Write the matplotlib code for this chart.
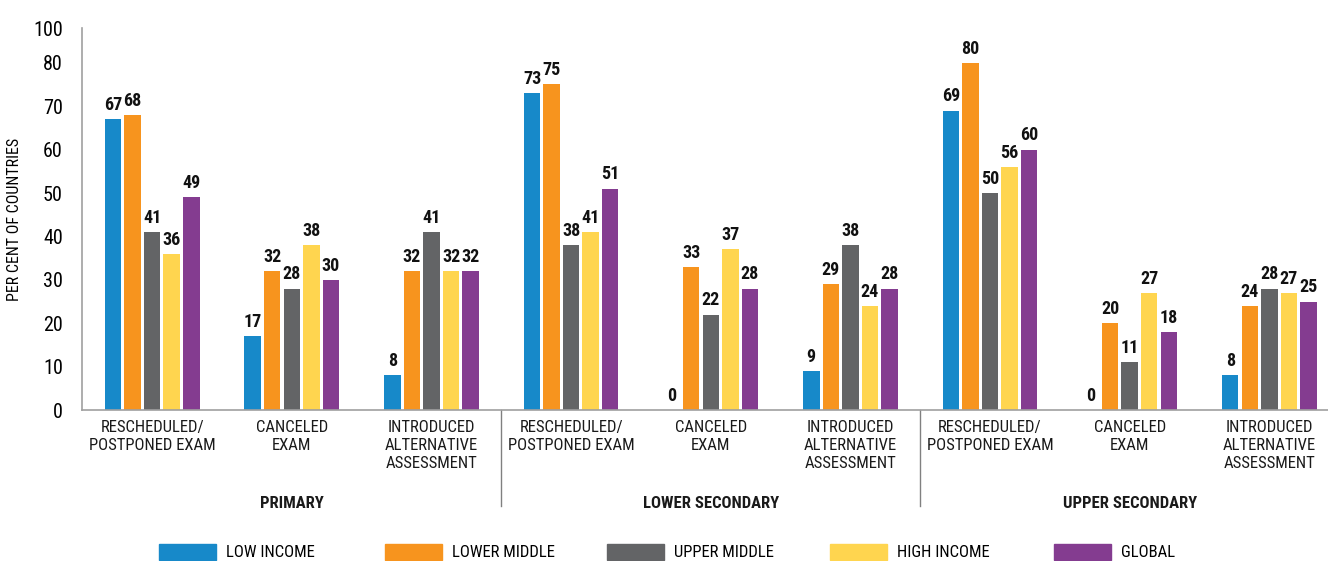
import numpy as np
import matplotlib
matplotlib.use("Agg")
import matplotlib.pyplot as plt
from matplotlib.patches import Patch

plt.rcParams['font.family'] = ['Liberation Sans Narrow', 'Roboto Condensed', 'DejaVu Sans']

# data
categories = ["RESCHEDULED/\nPOSTPONED EXAM", "CANCELED\nEXAM", "INTRODUCED\nALTERNATIVE\nASSESSMENT"] * 3
levels = ["PRIMARY", "LOWER SECONDARY", "UPPER SECONDARY"]
series = ["LOW INCOME", "LOWER MIDDLE", "UPPER MIDDLE", "HIGH INCOME", "GLOBAL"]
low_income = [67, 17, 8, 73, 0, 9, 69, 0, 8]
lower_middle = [68, 32, 32, 75, 33, 29, 80, 20, 24]
upper_middle = [41, 28, 41, 38, 22, 38, 50, 11, 28]
high_income = [36, 38, 32, 41, 37, 24, 56, 27, 27]
global_ = [49, 30, 32, 51, 28, 28, 60, 18, 25]
colors = ["#1789C9", "#F7941E", "#636466", "#FFD54F", "#843C90"]

fig = plt.figure(figsize=(13.28, 5.61), dpi=100)
ax = fig.add_axes([0.062, 0.269, 0.938, 0.681])

x = np.arange(len(categories))
width = 0.118
step = 0.14
for i, vals in enumerate([low_income, lower_middle, upper_middle, high_income, global_]):
    pos = x + (i - 2) * step
    ax.bar(pos, vals, width, color=colors[i])
    for p, v in zip(pos, vals):
        ax.text(p, v + 1.2, str(v), ha='center', va='bottom', fontsize=13, fontweight='bold', color='#111111')

ax.set_xlim(-0.5, 8.42)
ax.set_ylim(0, 88)
ax.set_yticks([0, 10, 20, 30, 40, 50, 60, 70, 80, 88])
ax.set_yticklabels(["0", "10", "20", "30", "40", "50", "60", "70", "80", "100"], fontsize=14.5)
ax.tick_params(axis='y', length=0, pad=14)
ax.set_xticks([])
ax.set_ylabel("PER CENT OF COUNTRIES", fontsize=11.5, labelpad=8)
for s in ['top', 'right']:
    ax.spines[s].set_visible(False)
for s in ['left', 'bottom']:
    ax.spines[s].set_color('#A0A0A0')
    ax.spines[s].set_linewidth(1.2)

for xi, lab in zip(x, categories):
    ax.text(xi, -0.025, lab, transform=ax.get_xaxis_transform(), ha='center', va='top',
            fontsize=12, linespacing=1.25, color='#1a1a1a')

for k, lev in enumerate(levels):
    ax.text(3 * k + 1, -0.225, lev, transform=ax.get_xaxis_transform(), ha='center', va='top',
            fontsize=12, fontweight='bold', color='#1a1a1a')

for sx in [2.5, 5.5]:
    ax.plot([sx, sx], [0, -0.25], transform=ax.get_xaxis_transform(), color='#808080', lw=1, clip_on=False)

# legend entries, evenly spaced by start position
leg_x = [0.12, 0.29, 0.457, 0.625, 0.794]
for c, name, lx in zip(colors, series, leg_x):
    leg = fig.legend([Patch(color=c)], [name], loc='center left', bbox_to_anchor=(lx, 0.016),
                     frameon=False, fontsize=12, handlelength=3.4, handleheight=1.1,
                     handletextpad=0.6, borderpad=0, borderaxespad=0)

fig.savefig("out.png", dpi=100)
